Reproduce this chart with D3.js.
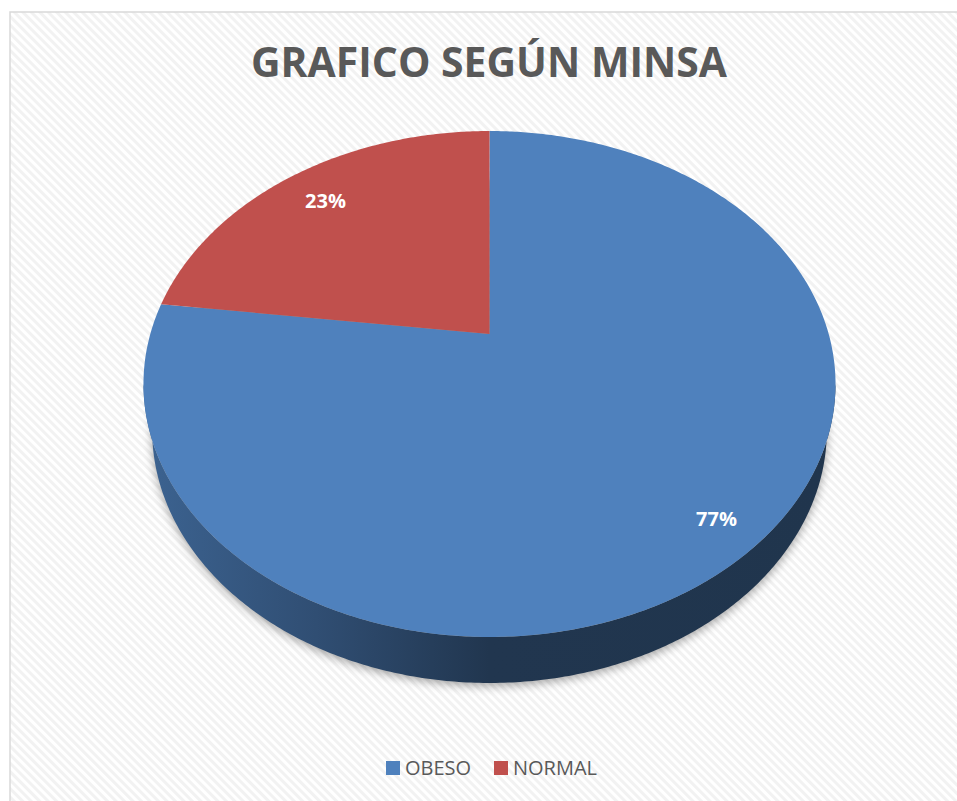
<!DOCTYPE html>
<html>
<head>
<meta charset="utf-8">
<script src="https://cdn.jsdelivr.net/npm/d3@7"></script>
<style>
  body { margin: 0; background: #fff; }
  svg { display: block; }
</style>
</head>
<body>
<div id="chart"></div>
<script>
// data
const categories = ['OBESO', 'NORMAL'];
const values = [77, 23];
const colors = ['#4f81bd', '#c0504d'];
const chartTitle = 'GRAFICO SEGÚN MINSA';

const W = 957, H = 801;

// perspective disc: a homography of the unit circle
const disc = {
  cx: 489.5, cy: 334,   // projected centre of the pie
  a: 339.2, b: 243.1,   // horizontal / depth scale
  k: -0.1976,           // perspective factor
  depth: 46,            // thickness of the side wall
  bottomScale: 0.975    // bottom face looks a little narrower
};

function proj(phi, r = 1) {
  const x = r * Math.sin(phi), y = -r * Math.cos(phi);
  const w = 1 + disc.k * y;
  return [disc.cx + disc.a * x / w, disc.cy + disc.b * y / w];
}

function projBottom(phi) {
  const p = proj(phi);
  return [disc.cx + (p[0] - disc.cx) * disc.bottomScale, p[1] + disc.depth];
}

function arcPoints(a0, a1, f = proj) {
  const n = Math.max(2, Math.ceil(Math.abs(a1 - a0) / 0.01));
  const pts = [];
  for (let i = 0; i <= n; i++) pts.push(f(a0 + (a1 - a0) * i / n));
  return pts;
}

const line = d3.line();

const svg = d3.select('#chart').append('svg')
  .attr('width', W)
  .attr('height', H);

const defs = svg.append('defs');

// diagonal hatch background
const pat = defs.append('pattern')
  .attr('id', 'hatch')
  .attr('patternUnits', 'userSpaceOnUse')
  .attr('width', 6).attr('height', 6)
  .attr('patternTransform', 'rotate(-45)');
pat.append('rect').attr('width', 6).attr('height', 6).attr('fill', '#ffffff');
pat.append('rect').attr('width', 3).attr('height', 6).attr('fill', '#f2f2f2');

// soft shadow
defs.append('filter')
  .attr('id', 'shadow')
  .attr('x', '-20%').attr('y', '-20%').attr('width', '140%').attr('height', '140%')
  .append('feGaussianBlur').attr('stdDeviation', 5);

// chart area
svg.append('rect')
  .attr('x', 10).attr('y', 12)
  .attr('width', W).attr('height', H)
  .attr('fill', 'url(#hatch)')
  .attr('stroke', '#d9d9d9')
  .attr('stroke-width', 1.5);

svg.append('text')
  .attr('x', 489).attr('y', 77)
  .attr('text-anchor', 'middle')
  .attr('font-family', '"Open Sans", sans-serif')
  .attr('font-weight', 'bold')
  .attr('font-size', 41)
  .attr('fill', '#595959')
  .attr('textLength', 476)
  .attr('lengthAdjust', 'spacingAndGlyphs')
  .text(chartTitle);

const pie = d3.pie().sort(null).value(d => d.value).startAngle(0).endAngle(2 * Math.PI);
const data = categories.map((c, i) => ({ name: c, value: values[i], color: colors[i] }));
const arcs = pie(data);

const g = svg.append('g');

// shadow below the disc
g.append('path')
  .attr('d', line(arcPoints(0, 2 * Math.PI, phi => {
    const p = projBottom(phi);
    return [p[0], p[1] + 3];
  })) + 'Z')
  .attr('fill', '#000')
  .attr('opacity', 0.35)
  .attr('filter', 'url(#shadow)');

// front visible range of the side wall (tangent points of the silhouette)
const tang = Math.acos(disc.k);
const front0 = tang, front1 = 2 * Math.PI - tang;

arcs.forEach((d, i) => {
  const a0 = Math.max(d.startAngle, front0);
  const a1 = Math.min(d.endAngle, front1);
  if (a1 <= a0) return;
  const base = d3.color(d.data.color);
  const grad = defs.append('linearGradient')
    .attr('id', 'wall' + i)
    .attr('gradientUnits', 'userSpaceOnUse')
    .attr('x1', disc.cx - disc.a * 1.02).attr('x2', disc.cx + disc.a * 1.02)
    .attr('y1', 0).attr('y2', 0);
  [[0, 0.75], [0.25, 1.4], [0.5, 2.45], [1, 2.5]].forEach(s => {
    grad.append('stop').attr('offset', s[0]).attr('stop-color', base.darker(s[1]));
  });
  const top = arcPoints(a0, a1);
  const bot = arcPoints(a0, a1, projBottom).reverse();
  g.append('path')
    .attr('d', line(top.concat(bot)) + 'Z')
    .attr('fill', 'url(#wall' + i + ')');
});

// top face slices
g.selectAll('.slice')
  .data(arcs)
  .join('path')
  .attr('class', 'slice')
  .attr('d', d => line([[disc.cx, disc.cy]].concat(arcPoints(d.startAngle, d.endAngle))) + 'Z')
  .attr('fill', d => d.data.color);

// percentage labels
const labelR = { OBESO: 0.88, NORMAL: 0.82 };
const total = d3.sum(values);
g.selectAll('.label')
  .data(arcs)
  .join('text')
  .attr('class', 'label')
  .attr('x', d => proj((d.startAngle + d.endAngle) / 2, labelR[d.data.name])[0])
  .attr('y', d => proj((d.startAngle + d.endAngle) / 2, labelR[d.data.name])[1])
  .attr('dy', '0.35em')
  .attr('text-anchor', 'middle')
  .attr('font-family', '"Open Sans", sans-serif')
  .attr('font-weight', 'bold')
  .attr('font-size', 20)
  .attr('fill', '#fff')
  .text(d => Math.round(d.value / total * 100) + '%');

// legend
const legend = svg.append('g').attr('transform', 'translate(386,761)');
const xs = [0, 108];
const items = legend.selectAll('g')
  .data(data)
  .join('g')
  .attr('transform', (d, i) => `translate(${xs[i]},0)`);
items.append('rect')
  .attr('width', 14).attr('height', 14)
  .attr('fill', d => d.color);
items.append('text')
  .attr('x', 19).attr('y', 14)
  .attr('font-family', '"Open Sans", sans-serif')
  .attr('font-size', 20)
  .attr('fill', '#595959')
  .text(d => d.name);
</script>
</body>
</html>
